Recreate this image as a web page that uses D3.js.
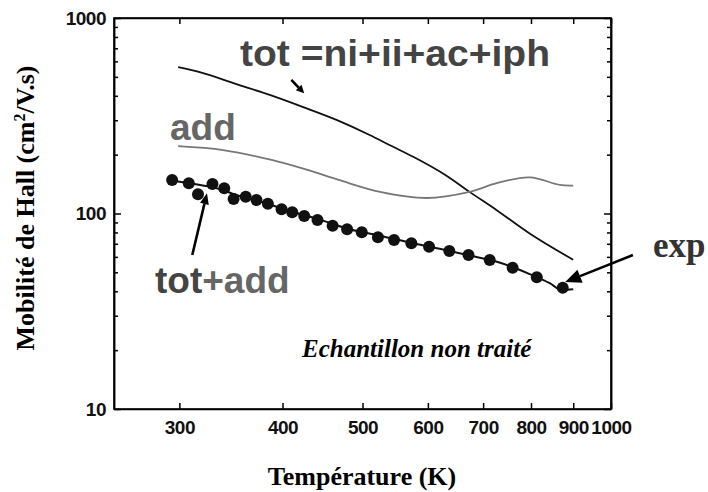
<!doctype html>
<html lang="en">
  <head>
    <title>Mobilite de Hall</title>
    <meta charset="utf-8">
    <script src="https://d3js.org/d3.v7.min.js"></script>
    <style>
      body { margin: 0; background: #fff; }
      .axes text { font-family: 'Liberation Sans', Arial, sans-serif; font-weight: bold; font-size: 19px; fill: #111; letter-spacing: -0.5px; }
      .axes path, .axes line { stroke: #000; stroke-width: 1.5px; }
      .title { font-family: 'Liberation Serif', 'Times New Roman', serif; font-weight: bold; font-size: 26px; fill: #000; }
      .big { font-family: 'Liberation Sans', Arial, sans-serif; font-weight: bold; font-size: 37px; }
    </style>
  </head>
  <body>
    <div id="holder" class="visual"></div>
  </body>
  <script>
      // experimental points (K, cm2/V.s)
      const T_exp = [294, 308, 316, 329, 340, 349, 361, 372, 384, 399, 411, 425, 441, 460, 479, 499, 522, 546, 573, 602, 637, 672, 713, 760, 813, 874]
      const mu_exp = [148.4, 142.7, 125.4, 141.6, 134.6, 118.6, 121.9, 117.2, 112.2, 105.1, 101.4, 97.1, 92.6, 86.6, 83.0, 80.1, 75.6, 73.2, 70.4, 67.6, 64.3, 61.3, 57.8, 52.8, 47.2, 41.7]

      // tot = ni+ii+ac+iph
      const T_tot = [299, 319, 351, 386, 423, 465, 510, 539, 576, 632, 674, 727, 797, 900]
      const mu_tot = [560, 525, 460, 404, 351, 301, 252, 224, 195, 156, 129, 104, 79, 58]

      // add
      const T_add = [299, 339, 388, 427, 469, 525, 598, 674, 727, 797, 867, 900]
      const mu_add = [221, 211, 188, 168, 148, 129, 120, 129, 143, 153, 140, 139]

      // tot+add (fit)
      const T_fit = [293, 308, 334, 355, 372, 408, 444, 482, 525, 570, 620, 674, 734, 797, 843, 872, 900]
      const mu_fit = [148, 143, 134, 123, 117, 103, 93, 83, 77, 71, 66, 61, 56, 49, 44, 40.6, 41]

      const xTicks = [300, 400, 500, 600, 700, 800, 900, 1000]
      const yTicks = [10, 100, 1000]
      const yMinor = [20, 30, 40, 50, 60, 70, 80, 90, 200, 300, 400, 500, 600, 700, 800, 900]

      const w = 708
      const h = 492
      const margin = { top: 18, right: 97, bottom: 83, left: 114 }

      const x = d3.scaleLog()
          .domain([250, 1000])
          .range([margin.left, w - margin.right])
      const y = d3.scaleLog()
          .domain([10, 1000])
          .range([h - margin.bottom, margin.top])

      const svg = d3.select('.visual')
          .append('svg')
          .attr('width', w)
          .attr('height', h)

      // axes, ticks pointing inward
      svg.append('g')
          .attr('class', 'axes')
          .attr('transform', 'translate(0,' + y(10) + ')')
          .call(d3.axisBottom(x).tickValues(xTicks).tickFormat(d3.format('d')).tickSizeInner(-6).tickSizeOuter(0).tickPadding(12))
      svg.append('g')
          .attr('class', 'axes')
          .attr('transform', 'translate(0,' + y(1000) + ')')
          .call(d3.axisTop(x).tickValues(xTicks).tickFormat('').tickSizeInner(-6).tickSizeOuter(0))
      svg.append('g')
          .attr('class', 'axes')
          .attr('transform', 'translate(' + x(250) + ',0)')
          .call(d3.axisLeft(y).tickValues(yTicks).tickFormat(d3.format('d')).tickSizeInner(-7).tickSizeOuter(0).tickPadding(8))
      svg.append('g')
          .attr('class', 'axes')
          .attr('transform', 'translate(' + x(250) + ',0)')
          .call(d3.axisLeft(y).tickValues(yMinor).tickFormat('').tickSizeInner(-4).tickSizeOuter(0))
      svg.append('g')
          .attr('class', 'axes')
          .attr('transform', 'translate(' + x(1000) + ',0)')
          .call(d3.axisRight(y).tickValues(yTicks).tickFormat('').tickSizeInner(-7).tickSizeOuter(0))
      svg.append('g')
          .attr('class', 'axes')
          .attr('transform', 'translate(' + x(1000) + ',0)')
          .call(d3.axisRight(y).tickValues(yMinor).tickFormat('').tickSizeInner(-4).tickSizeOuter(0))

      svg.append('rect')
          .attr('x', x(250))
          .attr('y', y(1000))
          .attr('width', x(1000) - x(250))
          .attr('height', y(10) - y(1000))
          .attr('fill', 'none')
          .attr('stroke', '#000')
          .attr('stroke-width', 1.6)

      // curves
      const line = d3.line()
          .x(function(d) { return x(d[0]) })
          .y(function(d) { return y(d[1]) })
          .curve(d3.curveMonotoneX)

      svg.append('path')
          .datum(d3.zip(T_tot, mu_tot))
          .attr('d', line)
          .attr('fill', 'none')
          .attr('stroke', '#111')
          .attr('stroke-width', 1.8)

      svg.append('path')
          .datum(d3.zip(T_add, mu_add))
          .attr('d', line.curve(d3.curveCatmullRom))
          .attr('fill', 'none')
          .attr('stroke', '#777')
          .attr('stroke-width', 1.8)

      svg.append('path')
          .datum(d3.zip(T_fit, mu_fit))
          .attr('d', line.curve(d3.curveMonotoneX))
          .attr('fill', 'none')
          .attr('stroke', '#111')
          .attr('stroke-width', 2)

      svg.selectAll('.dot')
          .data(d3.zip(T_exp, mu_exp))
          .enter()
          .append('circle')
          .attr('class', 'dot')
          .attr('cx', function(d) { return x(d[0]) })
          .attr('cy', function(d) { return y(d[1]) })
          .attr('r', 6)
          .attr('fill', '#111')

      // arrows: [from T, from mu, to T, to mu, head length, head width]
      const arrows = [
          [410, 482, 425, 412, 8, 8],
          [311, 61.3, 324, 127, 11, 9],
          [1063, 61.3, 880, 44.6, 16, 14]
      ]
      arrows.forEach(function(a) {
          const x0 = x(a[0]), y0 = y(a[1]), x1 = x(a[2]), y1 = y(a[3])
          const ang = Math.atan2(y1 - y0, x1 - x0)
          const bx = x1 - a[4] * Math.cos(ang), by = y1 - a[4] * Math.sin(ang)
          const px = Math.sin(ang) * a[5] / 2, py = -Math.cos(ang) * a[5] / 2
          svg.append('line')
              .attr('x1', x0).attr('y1', y0)
              .attr('x2', bx).attr('y2', by)
              .attr('stroke', '#000')
              .attr('stroke-width', 2.6)
          svg.append('polygon')
              .attr('points', [[x1, y1], [bx + px, by + py], [bx - px, by - py]].join(' '))
              .attr('fill', '#000')
      })

      // labels
      svg.append('text')
          .attr('class', 'big')
          .attr('x', 240)
          .attr('y', 66)
          .attr('fill', '#444')
          .attr('textLength', 310)
          .attr('lengthAdjust', 'spacingAndGlyphs')
          .text('tot =ni+ii+ac+iph')

      svg.append('text')
          .attr('class', 'big')
          .attr('x', 170)
          .attr('y', 140)
          .attr('fill', '#666')
          .text('add')

      const ta = svg.append('text')
          .attr('class', 'big')
          .attr('x', 155)
          .attr('y', 293)
      ta.append('tspan').attr('fill', '#444').text('tot')
      ta.append('tspan').attr('fill', '#666').text('+add')

      svg.append('text')
          .attr('x', 653)
          .attr('y', 257)
          .attr('fill', '#333')
          .style('font-family', "'Liberation Serif', 'Times New Roman', serif")
          .style('font-weight', 'bold')
          .style('font-size', '35px')
          .text('exp')

      svg.append('text')
          .attr('x', 302)
          .attr('y', 357)
          .attr('fill', '#000')
          .style('font-family', "'Liberation Serif', 'Times New Roman', serif")
          .style('font-weight', 'bold')
          .style('font-style', 'italic')
          .style('font-size', '25px')
          .text('Echantillon non traité')

      svg.append('text')
          .attr('class', 'title')
          .attr('x', 362)
          .attr('y', 485)
          .attr('text-anchor', 'middle')
          .text('Température (K)')

      const yl = svg.append('text')
          .attr('class', 'title')
          .attr('transform', 'translate(34,208) rotate(-90)')
          .attr('text-anchor', 'middle')
      yl.append('tspan').text('Mobilité de Hall (cm')
      yl.append('tspan').attr('dy', -9).style('font-size', '16px').text('2')
      yl.append('tspan').attr('dy', 9).text('/V.s)')
  </script>
</html>
